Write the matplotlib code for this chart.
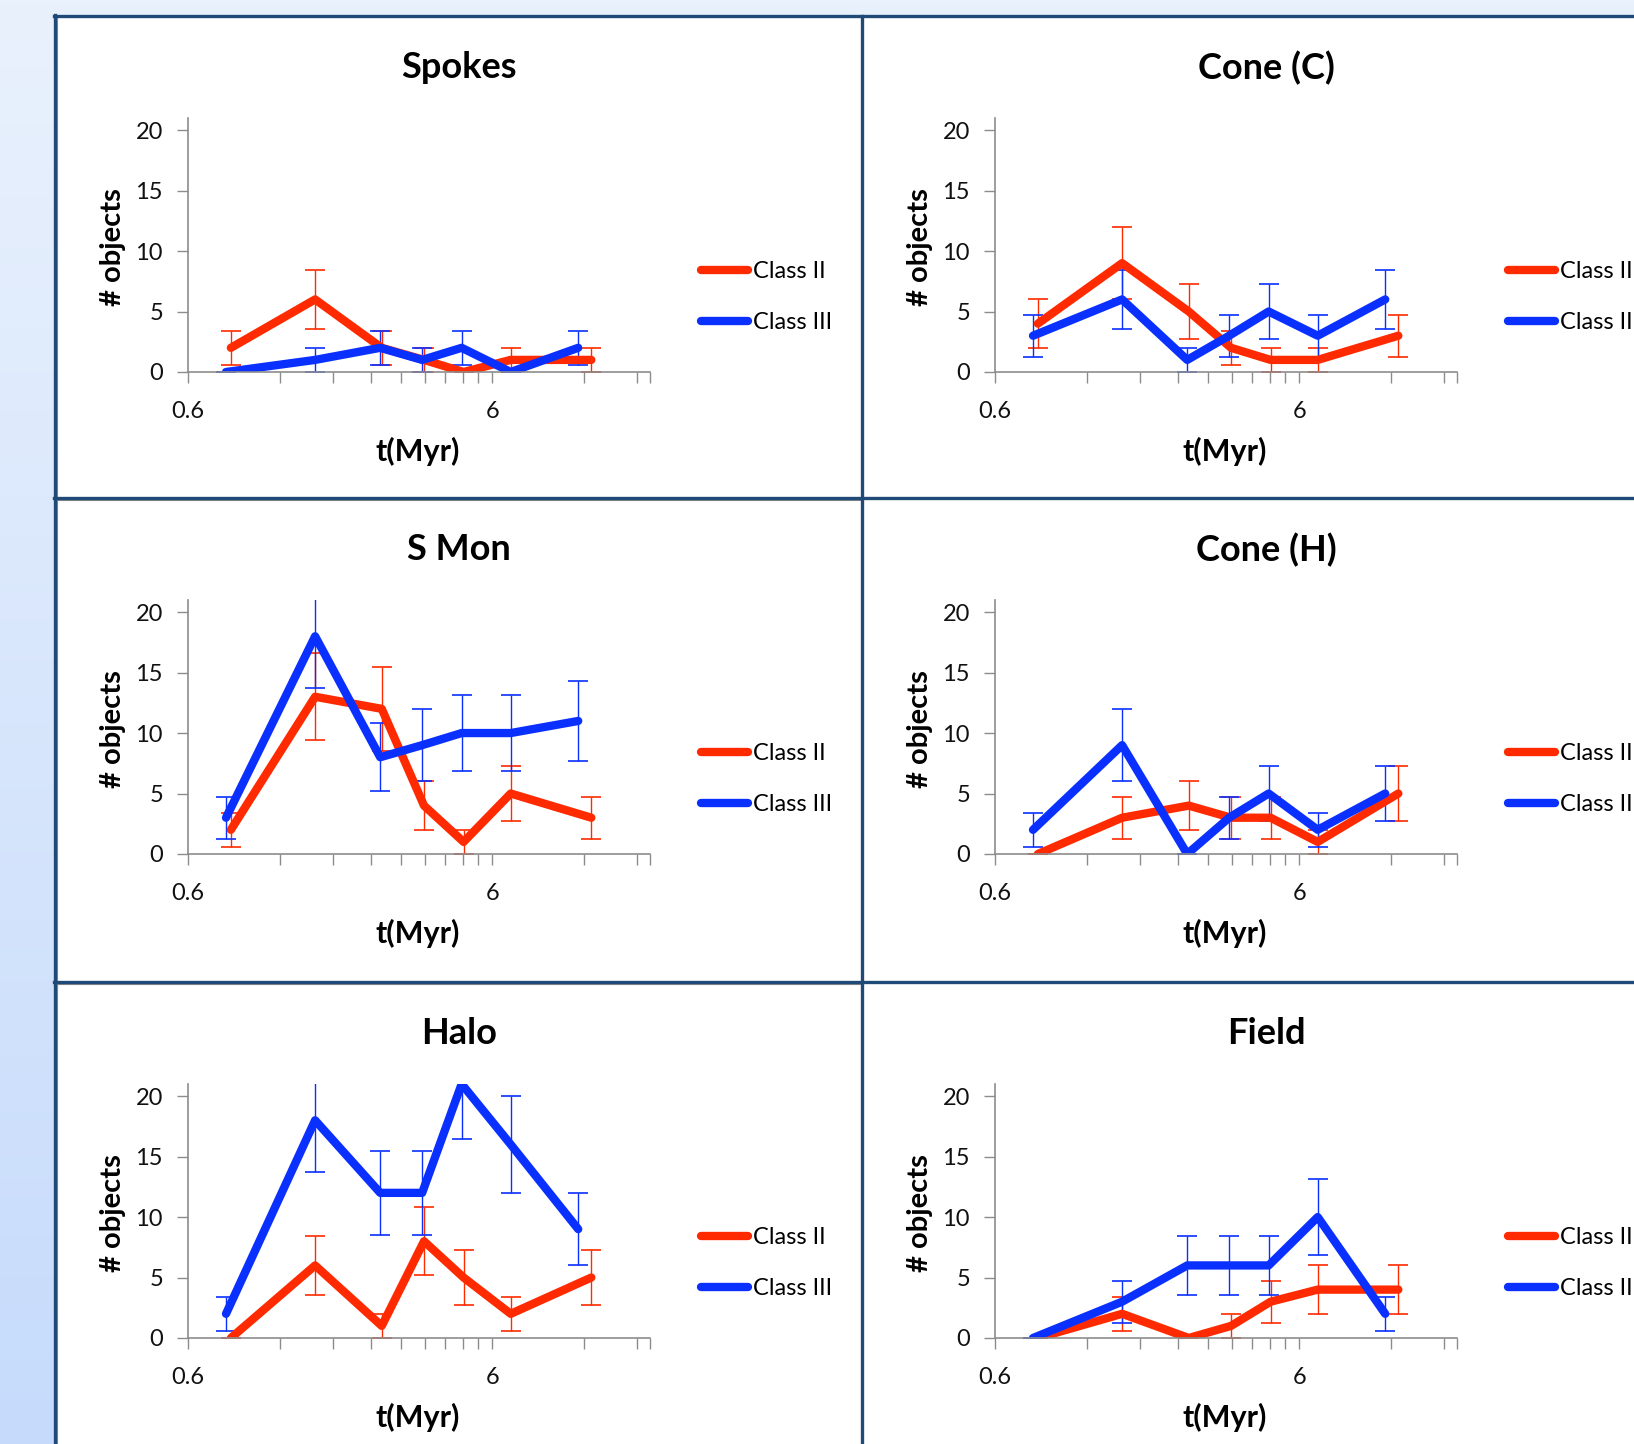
import numpy as np
import matplotlib
matplotlib.use("Agg")
import matplotlib.pyplot as plt
from matplotlib.colors import LinearSegmentedColormap
from matplotlib.ticker import NullFormatter

plt.rcParams['font.family'] = ['Lato', 'DejaVu Sans']

# age bins (Myr) as plotted for each class
x_class2 = [0.83, 1.57, 2.6, 3.58, 4.83, 6.9, 12.7]
x_class3 = [0.80, 1.57, 2.57, 3.53, 4.76, 6.9, 11.5]

titles = ["Spokes", "Cone (C)", "S Mon", "Cone (H)", "Halo", "Field"]

spokes_c2 = [2, 6, 2, 1, 0, 1, 1]
spokes_c3 = [0, 1, 2, 1, 2, 0, 2]
cone_c_c2 = [4, 9, 5, 2, 1, 1, 3]
cone_c_c3 = [3, 6, 1, 3, 5, 3, 6]
smon_c2 = [2, 13, 12, 4, 1, 5, 3]
smon_c3 = [3, 18, 8, 9, 10, 10, 11]
cone_h_c2 = [0, 3, 4, 3, 3, 1, 5]
cone_h_c3 = [2, 9, 0, 3, 5, 2, 5]
halo_c2 = [0, 6, 1, 8, 5, 2, 5]
halo_c3 = [2, 18, 12, 12, 21, 16, 9]
field_c2 = [0, 2, 0, 1, 3, 4, 4]
field_c3 = [0, 3, 6, 6, 6, 10, 2]

class2 = [spokes_c2, cone_c_c2, smon_c2, cone_h_c2, halo_c2, field_c2]
class3 = [spokes_c3, cone_c_c3, smon_c3, cone_h_c3, halo_c3, field_c3]

x_major = [0.6, 6]
x_minor = [1.2, 1.8, 2.4, 3.0, 3.6, 4.2, 4.8, 5.4, 12, 18, 19.8]
y_ticks = [0, 5, 10, 15, 20]

RED = '#ff2a00'
BLUE = '#0a30ff'
GRAY = '#8c8c8c'
BORDER = '#1f4a78'

W, H = 1634, 1444
fig = plt.figure(figsize=(W / 100, H / 100), dpi=100)

# background, white panels and their frames, in pixel coords
bg = fig.add_axes([0, 0, 1, 1], zorder=-1)
bg.set_xlim(0, W)
bg.set_ylim(H, 0)
bg.axis('off')
cmap = LinearSegmentedColormap.from_list('bg', ['#e9f1fd', '#c6dbfb'])
grad = np.linspace(0, 1, 256).reshape(-1, 1)
bg.imshow(grad, extent=[0, W, H, 0], aspect='auto', cmap=cmap, zorder=0)
bg.add_patch(plt.Rectangle((57, 17), W, H, facecolor='white', edgecolor='none', zorder=1))
bg.plot([57.5, 57.5], [18, H], color=GRAY, lw=0.8, zorder=2)
for yy in [499.5, 983.5]:
    bg.plot([57, 861], [yy, yy], color=GRAY, lw=0.8, zorder=2)
bg.plot([55.5, 55.5], [15, H], color=BORDER, lw=2.4, zorder=3)
bg.plot([54, W], [16, 16], color=BORDER, lw=2.4, zorder=3)
bg.plot([862.5, 862.5], [16, H], color=BORDER, lw=2.4, zorder=3)
for yy in [497.5, 981.5]:
    bg.plot([54, W], [yy, yy], color=BORDER, lw=2.4, zorder=3)

col_x0 = [57, 864]
row_y0 = [17, 499, 983]

for i in range(6):
    x0 = col_x0[i % 2]
    y0 = row_y0[i // 2]
    left, right = x0 + 131, x0 + 593
    top, bottom = y0 + 101, y0 + 355
    ax = fig.add_axes([left / W, 1 - bottom / H, (right - left) / W, (bottom - top) / H])

    c2 = np.array(class2[i], dtype=float)
    c3 = np.array(class3[i], dtype=float)
    ax.errorbar(x_class2, c2, yerr=np.sqrt(c2), color=RED, lw=6, elinewidth=1.0,
                capsize=7, capthick=1.2, solid_capstyle='round', solid_joinstyle='round',
                label='Class II')
    ax.errorbar(x_class3, c3, yerr=np.sqrt(c3), color=BLUE, lw=6, elinewidth=1.0,
                capsize=7, capthick=1.2, solid_capstyle='round', solid_joinstyle='round',
                label='Class III')

    ax.set_xscale('log')
    ax.set_xlim(0.6, 19.8)
    ax.set_ylim(0, 21)
    ax.set_xticks(x_major)
    ax.set_xticklabels(['0.6', '6'])
    ax.set_xticks(x_minor, minor=True)
    ax.xaxis.set_minor_formatter(NullFormatter())
    ax.set_yticks(y_ticks)

    for s in ['top', 'right']:
        ax.spines[s].set_visible(False)
    for s in ['left', 'bottom']:
        ax.spines[s].set_color(GRAY)
        ax.spines[s].set_linewidth(1.2)
    ax.tick_params(axis='both', which='both', direction='out', length=8, width=1,
                   color=GRAY, labelsize=17, labelcolor='#111111')
    ax.tick_params(axis='y', pad=10)
    ax.tick_params(axis='x', pad=13)

    ax.set_xlabel('t(Myr)', fontsize=22, fontweight='bold')
    ax.xaxis.set_label_coords(0.498, -0.311)
    ax.xaxis.label.set_verticalalignment('center')
    ax.set_ylabel('# objects', fontsize=21, fontweight='bold')
    ax.yaxis.set_label_coords(-0.162, 0.492)
    ax.yaxis.label.set_verticalalignment('center')

    fig.text((x0 + 402) / W, 1 - (y0 + 51) / H, titles[i], fontsize=26,
             fontweight='bold', ha='center', va='center')

    handles, labels = ax.get_legend_handles_labels()
    leg = ax.legend([h[0] for h in handles], labels, loc='center left',
                    bbox_to_anchor=(1.110, 0.295), frameon=False, fontsize=17,
                    handlelength=2.0, handletextpad=0.2, labelspacing=1.25,
                    borderpad=0, borderaxespad=0)
    for line in leg.get_lines():
        line.set_linewidth(6)
        line.set_solid_capstyle('round')

fig.savefig('out.png', dpi=100)
